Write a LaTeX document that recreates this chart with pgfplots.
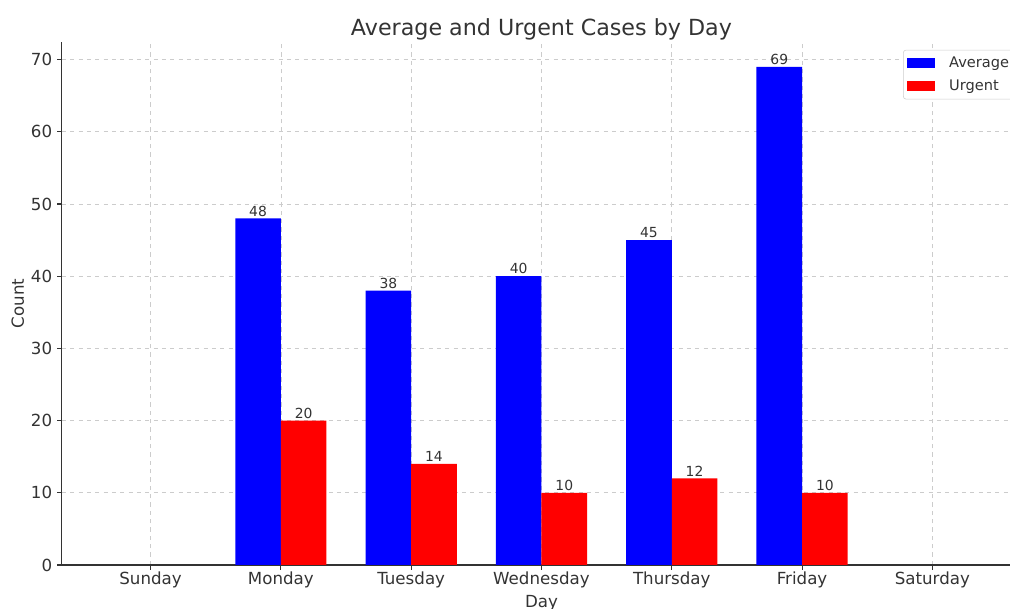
\documentclass[border=0pt]{standalone}
\usepackage{pgfplots}
\pgfplotsset{compat=1.18}
\usepackage{fontspec}
\setmainfont{DejaVu Sans}
\definecolor{txt}{HTML}{333333}
\definecolor{gridc}{HTML}{CCCCCC}
\begin{document}
\begin{tikzpicture}
\begin{axis}[
  scale only axis,
  width=690.5pt, height=376.6pt,
  xmin=-0.68, xmax=6.68,
  ymin=0, ymax=72.45,
  axis lines*=left,
  axis line style={draw=txt, line width=0.8pt},
  xtick={0,1,2,3,4,5,6},
  xticklabels={Sunday,Monday,Tuesday,Wednesday,Thursday,Friday,Saturday},
  ytick={0,10,20,30,40,50,60,70},
  tick align=outside,
  major tick length=3.5pt,
  tick style={draw=txt, line width=0.8pt},
  /pgf/number format/assume math mode=true,
  ticklabel style={font=\fontsize{12}{14}\selectfont, text=txt},
  xticklabel style={yshift=2pt},
  grid=major,
  major grid style={draw=gridc, dashed, line width=0.5pt},
  title={Average and Urgent Cases by Day},
  title style={font=\fontsize{16}{19}\selectfont, text=txt, yshift=-8pt},
  xlabel={Day}, ylabel={Count},
  label style={font=\fontsize{12}{14}\selectfont, text=txt},
  xlabel style={yshift=2pt},
  ylabel style={yshift=-2pt},
  ybar, bar width=0.35,
  nodes near coords,
  every node near coord/.append style={font=\fontsize{10}{12}\selectfont, text=txt, yshift=-2pt},
  legend style={at={(0.877,0.985)}, anchor=north west, draw=gridc, rounded corners=2pt,
    font=\fontsize{10.5}{12}\selectfont, text=txt, row sep=3pt, inner sep=3pt,
    /tikz/every odd column/.append style={column sep=8pt}},
  legend cell align=left,
  legend image code/.code={\fill[#1, sharp corners] (0pt,-3.5pt) rectangle (20pt,3.5pt);},
]
\addplot[fill=blue, draw=none, bar shift=-0.175] coordinates {(1,48) (2,38) (3,40) (4,45) (5,69)};
\addlegendentry{Average}
\addplot[fill=red, draw=none, bar shift=0.175] coordinates {(1,20) (2,14) (3,10) (4,12) (5,10)};
\addlegendentry{Urgent}
\end{axis}
\pgfresetboundingbox
\useasboundingbox (-44.6pt,-31pt) rectangle (682.6pt,406.8pt);
\end{tikzpicture}
\end{document}
